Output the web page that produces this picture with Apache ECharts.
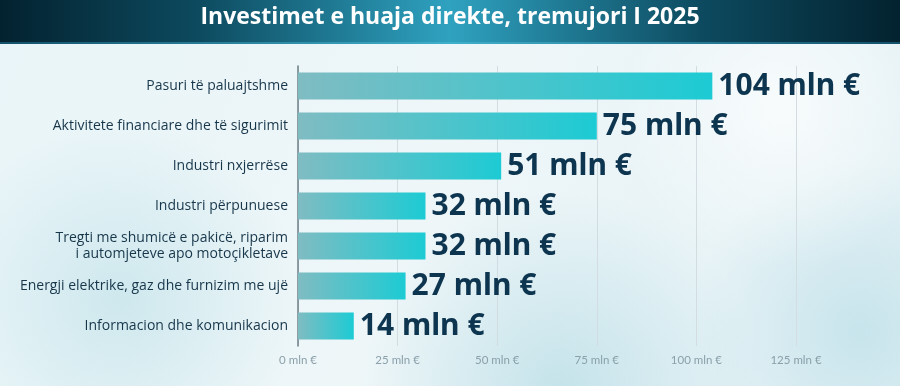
<!DOCTYPE html>
<html><head><meta charset="utf-8">
<script src="https://cdn.jsdelivr.net/npm/echarts@6/dist/echarts.min.js"></script>
<style>html,body{margin:0;padding:0;}#c{width:900px;height:386px;}</style>
</head><body><div id="c"></div>
<script>
const titleText = 'Investimet e huaja direkte, tremujori I 2025';
const categories = [
  'Pasuri të paluajtshme',
  'Aktivitete financiare dhe të sigurimit',
  'Industri nxjerrëse',
  'Industri përpunuese',
  'Tregti me shumicë e pakicë, riparim\ni automjeteve apo motoçikletave',
  'Energji elektrike, gaz dhe furnizim me ujë',
  'Informacion dhe komunikacion'
];
const values = [104, 75, 51, 32, 32, 27, 14];
const tickUnit = ' mln €';

const chart = echarts.init(document.getElementById('c'));
chart.setOption({
  backgroundColor: {
    type: 'linear', x: 0, y: 0, x2: 1, y2: 1,
    colorStops: [{offset: 0, color: '#e9f5f8'}, {offset: 0.5, color: '#eef6f8'}, {offset: 1, color: '#e3f1f5'}]
  },
  graphic: [
    {type: 'circle', shape: {cx: 120, cy: 300, r: 180}, silent: true, z: -10,
      style: {fill: {type: 'radial', x: 0.5, y: 0.5, r: 0.5, colorStops: [{offset: 0, color: 'rgba(170,215,225,0.45)'}, {offset: 1, color: 'rgba(170,215,225,0)'}]}}},
    {type: 'circle', shape: {cx: 560, cy: 390, r: 200}, silent: true, z: -10,
      style: {fill: {type: 'radial', x: 0.5, y: 0.5, r: 0.5, colorStops: [{offset: 0, color: 'rgba(160,210,222,0.5)'}, {offset: 1, color: 'rgba(160,210,222,0)'}]}}},
    {type: 'circle', shape: {cx: 860, cy: 330, r: 170}, silent: true, z: -10,
      style: {fill: {type: 'radial', x: 0.5, y: 0.5, r: 0.5, colorStops: [{offset: 0, color: 'rgba(165,212,224,0.45)'}, {offset: 1, color: 'rgba(165,212,224,0)'}]}}},
    {type: 'circle', shape: {cx: 780, cy: 110, r: 160}, silent: true, z: -10,
      style: {fill: {type: 'radial', x: 0.5, y: 0.5, r: 0.5, colorStops: [{offset: 0, color: 'rgba(255,255,255,0.7)'}, {offset: 1, color: 'rgba(255,255,255,0)'}]}}},
    {type: 'rect', shape: {x: 0, y: 0, width: 900, height: 44}, silent: true, z: 1,
      style: {fill: {type: 'linear', x: 0, y: 0, x2: 1, y2: 0,
        colorStops: [{offset: 0, color: '#03222f'}, {offset: 0.22, color: '#0d4a5f'}, {offset: 0.5, color: '#2fa2c0'}, {offset: 0.78, color: '#0d4a5f'}, {offset: 1, color: '#03222f'}]}}},
    {type: 'rect', shape: {x: 0, y: 42, width: 900, height: 2}, silent: true, z: 2,
      style: {fill: {type: 'linear', x: 0, y: 0, x2: 1, y2: 0,
        colorStops: [{offset: 0, color: '#14506a'}, {offset: 0.5, color: '#3fb0cc'}, {offset: 1, color: '#14506a'}]}}},
    {type: 'text', left: 'center', top: 6, z: 3, silent: true,
      style: {text: titleText, fill: '#ffffff', font: 'bold 23px "Open Sans", sans-serif'}}
  ],
  grid: {left: 298, right: 104, top: 66, bottom: 40, containLabel: false},
  xAxis: {
    type: 'value', min: 0, max: 125, interval: 25,
    axisLine: {show: false}, axisTick: {show: false},
    splitLine: {lineStyle: {color: '#d3dde1', width: 1}},
    axisLabel: {formatter: v => v + tickUnit, color: '#8aa0aa', fontSize: 11.5, fontFamily: 'Lato', margin: 8}
  },
  yAxis: {
    type: 'category', data: categories, inverse: true,
    axisLine: {show: true, lineStyle: {color: '#6d7f86', width: 1.5}},
    axisTick: {show: false},
    axisLabel: {color: '#17364a', fontSize: 14, fontFamily: '"Open Sans"', margin: 10, lineHeight: 16}
  },
  series: [{
    type: 'bar', data: values, barWidth: 27,
    itemStyle: {color: {type: 'linear', x: 0, y: 0, x2: 1, y2: 0,
      colorStops: [{offset: 0, color: '#7fbcc2'}, {offset: 1, color: '#1dcbd4'}]}},
    label: {show: true, position: 'right', distance: 6, formatter: p => p.value + tickUnit,
      color: '#0d3550', fontSize: 30, fontWeight: 'bold', fontFamily: '"Noto Sans", sans-serif'},
    animation: false
  }],
  animation: false
});
</script></body></html>
